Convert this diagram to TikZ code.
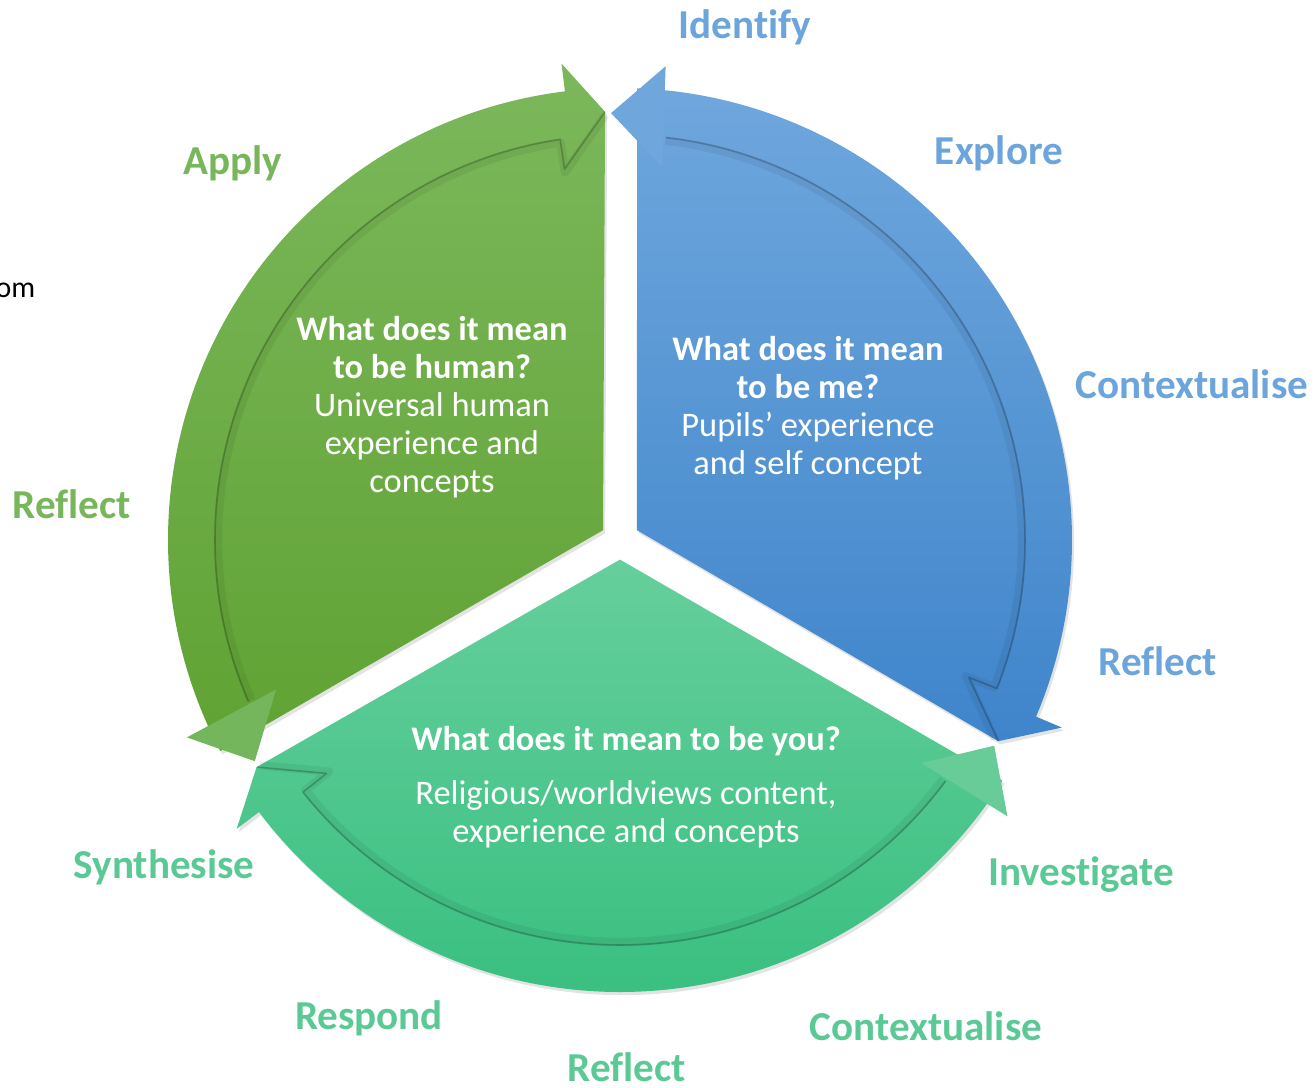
\documentclass[tikz,border=0pt]{standalone}
\usepackage{fontspec}
\setmainfont{Carlito}[Ligatures={TeX,NoCommon}]
\usetikzlibrary{shadows}
\definecolor{grnTop}{HTML}{7CB85C}
\definecolor{grnBot}{HTML}{60A233}
\definecolor{grnTail}{HTML}{74B65B}
\definecolor{bluTop}{HTML}{6FA7DD}
\definecolor{bluBot}{HTML}{3F85CB}
\definecolor{tealTop}{HTML}{66CF9C}
\definecolor{tealBot}{HTML}{38BF80}
\definecolor{tealTail}{HTML}{68CC99}
\definecolor{grnLab}{HTML}{77B65A}
\definecolor{bluLab}{HTML}{6CA5DB}
\definecolor{tealLab}{HTML}{5BC995}
\begin{document}
\begin{tikzpicture}[
    topic/.style={text=white, align=center, inner sep=0pt,
      font=\fontsize{9.8}{10.8}\selectfont},
    stage/.style={inner sep=0pt, font=\fontsize{11.7}{14}\selectfont\bfseries},
    fold/.style={draw=black, opacity=.22, line width=.45pt, line join=round},
    foldsoft/.style={draw=black, opacity=.06, line width=2.4pt, line join=round},
    lift/.style={drop shadow={shadow xshift=.6pt, shadow yshift=-.9pt, opacity=.22}}]
  \useasboundingbox (0,0) rectangle (13.15,10.87);
  \begin{scope}[shift={(6.20,5.47)}]
    \foreach \hd/\ctop/\cbot/\ctail in {90/grnTop/grnBot/grnTail,
        -30/bluTop/bluBot/bluTop, 210/tealTop/tealBot/tealTail}{
      \pgfmathsetmacro{\tl}{\hd+120}
      \shade[top color=\ctop, bottom color=\cbot, lift]
        ({\hd+60}:0.196) -- ({\hd+2}:4.285) -- ({\hd+7}:4.80) -- ({\hd+7}:4.52)
        arc[start angle=\hd+7, end angle=\tl-2.16, radius=4.52] -- cycle;
      \fill[\ctail] ({\tl-5.5}:4.76) -- ({\tl-6.5}:3.75) -- ({\tl+1.2}:4.27) -- cycle;
      \draw[foldsoft] ({\tl-6.5}:4.02)
        arc[start angle=\tl-6.5, end angle=\hd+8.5, radius=4.02]
        -- ({\hd+8.5}:3.72) -- ({\hd+2}:4.25);
      \draw[fold] ({\tl-6.5}:4.05)
        arc[start angle=\tl-6.5, end angle=\hd+8.5, radius=4.05]
        -- ({\hd+8.5}:3.75) -- ({\hd+2}:4.285);
    }
  \end{scope}

  \node[topic] (human) at (4.32,6.80) {\textbf{What does it mean}\\
    \textbf{to be human?}\\Universal human\\experience and\\concepts};
  \node[topic] (me) at (8.08,6.79) {\textbf{What does it mean}\\
    \textbf{to be me?}\\Pupils’ experience\\and self concept};
  \node[topic] (you) at (6.26,3.46) {\textbf{What does it mean to be you?}};
  \node[topic] (youtext) at (6.26,2.73) {Religious/worldviews content,\\
    experience and concepts};

  \node[stage, text=bluLab] (identify) at (7.45,10.60) {Identify};
  \node[stage, text=bluLab] (explore) at (9.99,9.34) {Explore};
  \node[stage, text=bluLab] (ctxme) at (11.92,7.03) {Contextualise};
  \node[stage, text=bluLab] (reflme) at (11.58,4.26) {Reflect};
  \node[stage, text=tealLab] (investigate) at (10.81,2.12) {Investigate};
  \node[stage, text=tealLab] (ctxyou) at (9.26,0.61) {Contextualise};
  \node[stage, text=tealLab] (reflyou) at (6.27,0.20) {Reflect};
  \node[stage, text=tealLab] (respond) at (3.69,0.69) {Respond};
  \node[stage, text=tealLab] (synthesise) at (1.64,2.20) {Synthesise};
  \node[stage, text=grnLab] (reflhuman) at (0.72,5.83) {Reflect};
  \node[stage, text=grnLab] (apply) at (2.33,9.24) {Apply};
  \node[anchor=base east, inner sep=0pt, font=\fontsize{8.5}{10}\selectfont]
    (om) at (0.36,7.90) {om};
\end{tikzpicture}
\end{document}
